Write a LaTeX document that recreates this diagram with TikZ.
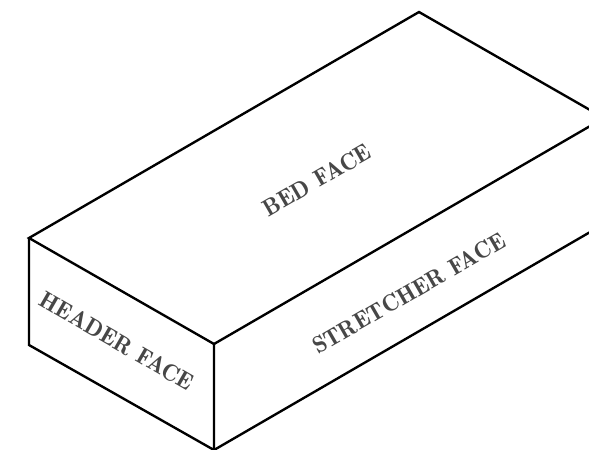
\documentclass[tikz,border=0pt]{standalone}
\usepackage{tikz}
\tikzset{
    brickline/.style={line width=1.35pt, line join=miter},
    facelabel/.style={text=black!72, font=\fontsize{13.5}{15}\fontseries{b}\selectfont, inner sep=0pt},
}
\begin{document}
\begin{tikzpicture}[x=0.02cm, y=-0.02cm]
    \useasboundingbox (0,0) rectangle (589,450);
    \clip (0,0) rectangle (589,450);
    % corners of the brick
    \coordinate (topleft) at (29,238);
    \coordinate (front) at (214,344);
    \coordinate (bottom) at (214,450);
    \coordinate (lowleft) at (29,345);
    \coordinate (back) at (419,12);
    \coordinate (topright) at (604,118);
    \coordinate (lowright) at (604,224);
    \draw[brickline] (topleft) -- (back) -- (topright) -- (front) -- cycle;
    \draw[brickline] (topleft) -- (lowleft) -- (bottom) -- (front);
    \draw[brickline] (bottom) -- (lowright) -- (topright);
    % labels
    \node[facelabel, rotate=30] (bed) at (317,180) {BED FACE};
    \node[facelabel, rotate=30] (stretcher) at (409,293) {STRETCHER FACE};
    \node[facelabel, rotate=-30] (header) at (117,341) {HEADER FACE};
\end{tikzpicture}
\end{document}
